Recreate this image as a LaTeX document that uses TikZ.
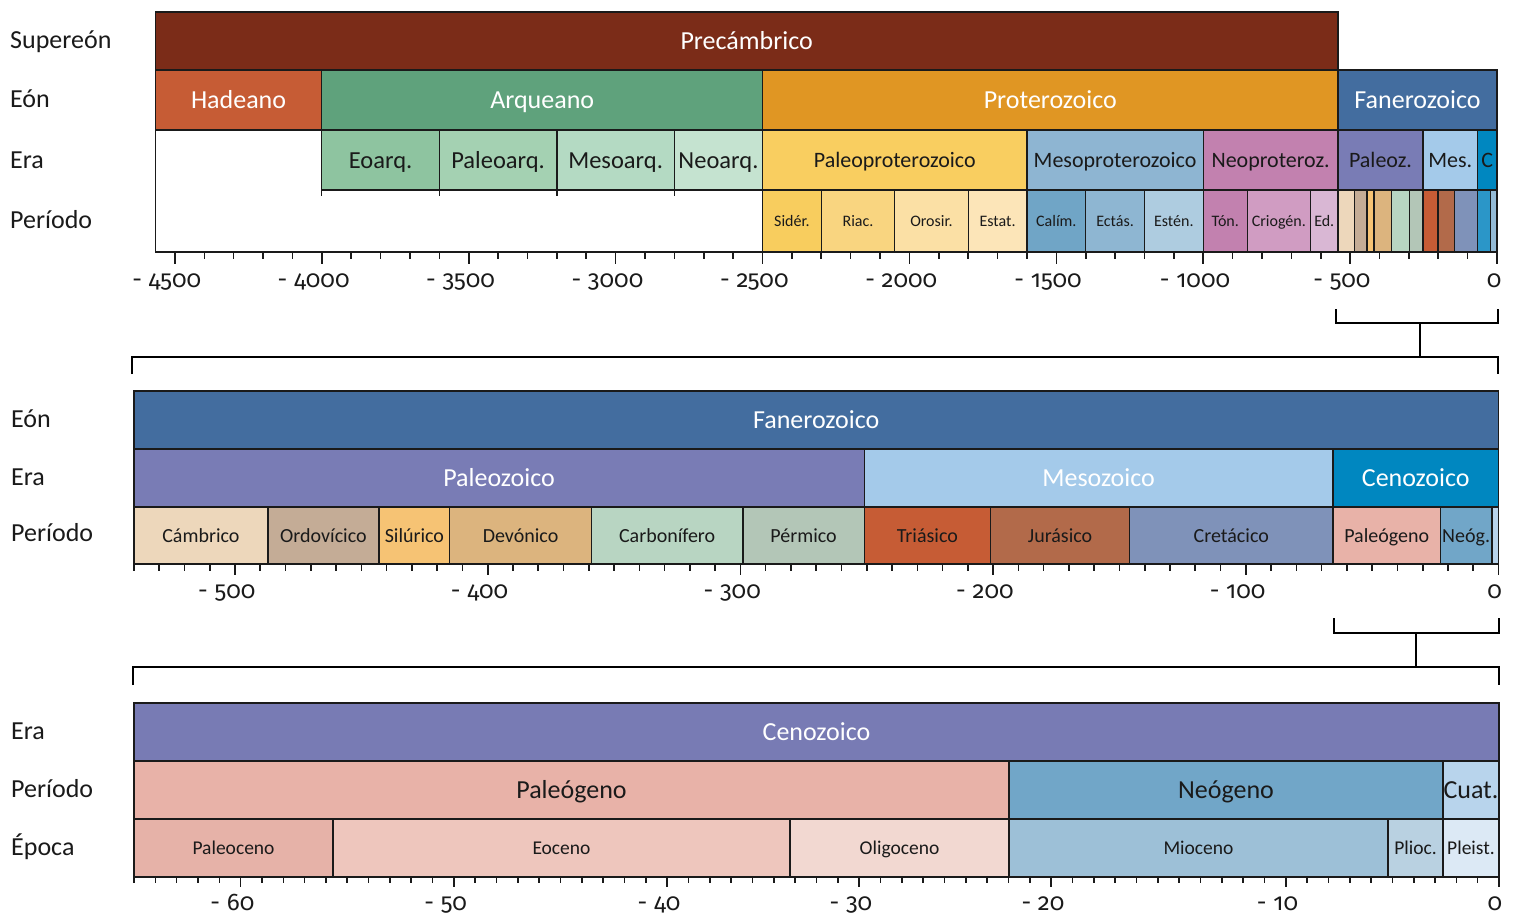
\documentclass[tikz,border=0pt]{standalone}
\usepackage{fontspec}
\setmainfont{Carlito}
\newfontfamily\agefont{Fira Sans}[Numbers=OldStyle]

% eons and supereon
\definecolor{ink}{HTML}{1A1A1A}
\definecolor{cPrec}{HTML}{7B2C18}
\definecolor{cHad}{HTML}{C65C35}
\definecolor{cArq}{HTML}{5FA27C}
\definecolor{cProt}{HTML}{E09623}
\definecolor{cFan}{HTML}{436D9F}
% eras
\definecolor{cEoarq}{HTML}{8EC4A0}
\definecolor{cPaleoarq}{HTML}{A4D1B2}
\definecolor{cMesoarq}{HTML}{B4DAC3}
\definecolor{cNeoarq}{HTML}{C5E3D0}
\definecolor{cPaleoprot}{HTML}{F9CE60}
\definecolor{cMesoprot}{HTML}{8EB5D2}
\definecolor{cNeoprot}{HTML}{C281AF}
\definecolor{cPaleoz}{HTML}{797CB5}
\definecolor{cMesoz}{HTML}{A4CAEA}
\definecolor{cCenoz}{HTML}{0087C0}
\definecolor{cCenozB}{HTML}{787BB4}
% periods
\definecolor{cSider}{HTML}{F8CD5E}
\definecolor{cRiac}{HTML}{F9D580}
\definecolor{cOrosir}{HTML}{FBE0A5}
\definecolor{cEstat}{HTML}{FCE5B8}
\definecolor{cCalim}{HTML}{70A5C6}
\definecolor{cEctas}{HTML}{8EB6D2}
\definecolor{cEsten}{HTML}{AECCE0}
\definecolor{cTon}{HTML}{C281AF}
\definecolor{cCriog}{HTML}{D09CC2}
\definecolor{cEdi}{HTML}{D9B7D4}
\definecolor{cCamb}{HTML}{EDD7BB}
\definecolor{cOrdo}{HTML}{C4AC96}
\definecolor{cSilu}{HTML}{F6C374}
\definecolor{cDevo}{HTML}{DCB47E}
\definecolor{cCarb}{HTML}{B8D5C2}
\definecolor{cPerm}{HTML}{B3C6B7}
\definecolor{cTria}{HTML}{C65C35}
\definecolor{cJura}{HTML}{B26A4A}
\definecolor{cCret}{HTML}{7F92B9}
\definecolor{cPaleog}{HTML}{E8B2A8}
\definecolor{cNeog}{HTML}{71A6C8}
\definecolor{cQuat}{HTML}{B8D4EC}
\definecolor{cPaleogA}{HTML}{2B96C8}
\definecolor{cNeogA}{HTML}{94BBD6}
% epochs
\definecolor{cPaleoc}{HTML}{E6B2A8}
\definecolor{cEoc}{HTML}{EEC6BD}
\definecolor{cOligoc}{HTML}{F2D8D1}
\definecolor{cMioc}{HTML}{9DC0D7}
\definecolor{cPlioc}{HTML}{B9D1E1}
\definecolor{cPleist}{HTML}{DCE9F5}

\tikzset{
  cell/.style={draw=ink, line width=1.3pt},
  axisline/.style={draw=ink, line width=2pt},
  tickline/.style={draw=ink, line width=1.6pt},
  bracket/.style={draw=black, line width=2pt},
  txt/.style={inner sep=0pt, text height=0pt, text depth=0pt, text=ink},
  wtxt/.style={txt, text=white},
  s26/.style={font=\fontsize{26}{30}\selectfont, yshift=-8.5pt},
  s24/.style={font=\fontsize{24.5}{28}\selectfont, yshift=-8pt},
  s22/.style={font=\fontsize{22}{26}\selectfont, yshift=-7pt},
  s20/.style={font=\fontsize{20}{24}\selectfont, yshift=-6.5pt},
  s19/.style={font=\fontsize{19.5}{23}\selectfont, yshift=-6.3pt},
  s16/.style={font=\fontsize{16}{19}\selectfont, yshift=-5.2pt},
  rowlab/.style={anchor=base west, inner sep=0pt, text=ink, font=\fontsize{26}{30}\selectfont},
  ticklab/.style={anchor=base, inner sep=0pt, text=ink, font=\agefont\fontsize{24}{28}\selectfont},
}

% #1 name, #2 left, #3 right, #4 top, #5 bottom, #6 fill, #7 text style, #8 text
\newcommand\cellbox[8]{%
  \filldraw[cell,fill=#6] (#2,#4) rectangle (#3,#5);
  \node[txt,#7] (#1) at ({(#2+#3)/2},{(#4+#5)/2}) {#8};%
}
\newcommand\agominus{\llap{-\hspace{0.28em}}}

\begin{document}
\begin{tikzpicture}[x=1pt, y=-1pt]
\useasboundingbox (0,0) rectangle (1517,916);

% ---------------- row titles ----------------
\node[rowlab] (tSup) at (10,48)  {Supereón};
\node[rowlab] (tEon1) at (10,107) {Eón};
\node[rowlab] (tEra1) at (10,168) {Era};
\node[rowlab] (tPer1) at (10,228) {Período};
\node[rowlab] (tEon2) at (11,427) {Eón};
\node[rowlab] (tEra2) at (11,485) {Era};
\node[rowlab] (tPer2) at (11,541) {Período};
\node[rowlab] (tEra3) at (11,739) {Era};
\node[rowlab] (tPer3) at (11,797) {Período};
\node[rowlab] (tEpo3) at (11,855) {Época};

% ---------------- whole history (Ma) ----------------
\begin{scope}[x=0.2938pt, xshift=1497pt]
  \cellbox{aPrec}{-4567}{-541}{12}{70}{cPrec}{wtxt,s26}{Precámbrico}
  % eons
  \cellbox{aHad}{-4567}{-4000}{70}{130}{cHad}{wtxt,s26}{Hadeano}
  \cellbox{aArq}{-4000}{-2500}{70}{130}{cArq}{wtxt,s26}{Arqueano}
  \cellbox{aProt}{-2500}{-541}{70}{130}{cProt}{wtxt,s26}{Proterozoico}
  \cellbox{aFan}{-541}{0}{70}{130}{cFan}{wtxt,s26}{Fanerozoico}
  % eras
  \cellbox{aEoarq}{-4000}{-3600}{130}{190}{cEoarq}{s24}{Eoarq.}
  \cellbox{aPaleoarq}{-3600}{-3200}{130}{190}{cPaleoarq}{s24}{Paleoarq.}
  \cellbox{aMesoarq}{-3200}{-2800}{130}{190}{cMesoarq}{s24}{Mesoarq.}
  \cellbox{aNeoarq}{-2800}{-2500}{130}{190}{cNeoarq}{s24}{Neoarq.}
  \cellbox{aPaleoprot}{-2500}{-1600}{130}{190}{cPaleoprot}{s22}{Paleoproterozoico}
  \cellbox{aMesoprot}{-1600}{-1000}{130}{190}{cMesoprot}{s22}{Mesoproterozoico}
  \cellbox{aNeoprot}{-1000}{-541}{130}{190}{cNeoprot}{s22}{Neoproteroz.}
  \cellbox{aPaleoz}{-541}{-252}{130}{190}{cPaleoz}{s22}{Paleoz.}
  \cellbox{aMesoz}{-252}{-66}{130}{190}{cMesoz}{s22}{Mes.}
  \cellbox{aCenoz}{-66}{0}{130}{190}{cCenoz}{s22}{C}
  % periods
  \cellbox{aSider}{-2500}{-2300}{190}{252}{cSider}{s16}{Sidér.}
  \cellbox{aRiac}{-2300}{-2050}{190}{252}{cRiac}{s16}{Riac.}
  \cellbox{aOrosir}{-2050}{-1800}{190}{252}{cOrosir}{s16}{Orosir.}
  \cellbox{aEstat}{-1800}{-1600}{190}{252}{cEstat}{s16}{Estat.}
  \cellbox{aCalim}{-1600}{-1400}{190}{252}{cCalim}{s16}{Calím.}
  \cellbox{aEctas}{-1400}{-1200}{190}{252}{cEctas}{s16}{Ectás.}
  \cellbox{aEsten}{-1200}{-1000}{190}{252}{cEsten}{s16}{Estén.}
  \cellbox{aTon}{-1000}{-850}{190}{252}{cTon}{s16}{Tón.}
  \cellbox{aCriog}{-850}{-635}{190}{252}{cCriog}{s16}{Criogén.}
  \cellbox{aEdi}{-635}{-541}{190}{252}{cEdi}{s16}{Ed.}
  \cellbox{aCamb}{-541}{-485}{190}{252}{cCamb}{s16}{}
  \cellbox{aOrdo}{-485}{-443}{190}{252}{cOrdo}{s16}{}
  \cellbox{aSilu}{-443}{-419}{190}{252}{cSilu}{s16}{}
  \cellbox{aDevo}{-419}{-359}{190}{252}{cDevo}{s16}{}
  \cellbox{aCarb}{-359}{-299}{190}{252}{cCarb}{s16}{}
  \cellbox{aPerm}{-299}{-252}{190}{252}{cPerm}{s16}{}
  \cellbox{aTria}{-252}{-201}{190}{252}{cTria}{s16}{}
  \cellbox{aJura}{-201}{-145}{190}{252}{cJura}{s16}{}
  \cellbox{aCret}{-145}{-66}{190}{252}{cCret}{s16}{}
  \cellbox{aPaleog}{-66}{-23}{190}{252}{cPaleogA}{s16}{}
  \cellbox{aNeog}{-23}{0}{190}{252}{cNeogA}{s16}{}
  % frame of the empty part and small drops below the Archean eras
  \draw[cell] (-4567,130) -- (-4567,252);
  \foreach \t in {-4000,-3600,-3200,-2800}
    \draw[cell] (\t,190) -- (\t,196);
  % time axis
  \foreach \t in {-4500,-4400,...,0}
    \draw[tickline] (\t,252) -- (\t,258.5);
  \foreach \t in {-4500,-4000,...,0}
    \draw[tickline] (\t,252) -- (\t,264);
  \draw[axisline] (-4567,252) -- (0,252);
  \foreach \t/\s in {-4500/4500,-4000/4000,-3500/3500,-3000/3000,-2500/2500,
                     -2000/2000,-1500/1500,-1000/1000,-500/500}
    \node[ticklab] (aL\s) at (\t,287) {\agominus\s};
  \node[ticklab] (aL0) at (-10,287) {0};
\end{scope}

% ---------------- zoom brackets 1 ----------------
\coordinate (b1a) at (1336,309);
\coordinate (b1b) at (1498,309);
\coordinate (b1m) at (1420,323);
\coordinate (b1s) at (1420,357);
\coordinate (b1c) at (132,374);
\coordinate (b1d) at (1498,374);
\draw[bracket] (b1a) |- (b1m) -| (b1b);
\draw[bracket] (b1m) -- (b1s);
\draw[bracket] (b1c) |- (b1s) -| (b1d);

% ---------------- Phanerozoic (Ma) ----------------
\begin{scope}[x=2.527pt, xshift=1498.5pt]
  \cellbox{bFan}{-540}{0}{391}{449}{cFan}{wtxt,s26}{Fanerozoico}
  \cellbox{bPaleoz}{-540}{-251}{449}{507}{cPaleoz}{wtxt,s26}{Paleozoico}
  \cellbox{bMesoz}{-251}{-65.5}{449}{507}{cMesoz}{wtxt,s26}{Mesozoico}
  \cellbox{bCenoz}{-65.5}{0}{449}{507}{cCenoz}{wtxt,s26}{Cenozoico}
  \cellbox{bCamb}{-540}{-487}{507}{564}{cCamb}{s20}{Cámbrico}
  \cellbox{bOrdo}{-487}{-443}{507}{564}{cOrdo}{s20}{Ordovícico}
  \cellbox{bSilu}{-443}{-415}{507}{564}{cSilu}{s20}{Silúrico}
  \cellbox{bDevo}{-415}{-359}{507}{564}{cDevo}{s20}{Devónico}
  \cellbox{bCarb}{-359}{-299}{507}{564}{cCarb}{s20}{Carbonífero}
  \cellbox{bPerm}{-299}{-251}{507}{564}{cPerm}{s20}{Pérmico}
  \cellbox{bTria}{-251}{-201}{507}{564}{cTria}{s20}{Triásico}
  \cellbox{bJura}{-201}{-146}{507}{564}{cJura}{s20}{Jurásico}
  \cellbox{bCret}{-146}{-65.5}{507}{564}{cCret}{s20}{Cretácico}
  \cellbox{bPaleog}{-65.5}{-23}{507}{564}{cPaleog}{s20}{Paleógeno}
  \cellbox{bNeog}{-23}{-2.6}{507}{564}{cNeog}{s20}{Neóg.}
  \cellbox{bQuat}{-2.6}{0}{507}{564}{cQuat}{s20}{}
  % time axis
  \foreach \t in {-540,-530,...,0}
    \draw[tickline] (\t,564) -- (\t,570.5);
  \foreach \t in {-500,-400,...,0}
    \draw[tickline] (\t,564) -- (\t,575);
  \draw[axisline] (-540,564) -- (0,564);
  \foreach \t/\s in {-500/500,-400/400,-300/300,-200/200,-100/100}
    \node[ticklab] (bL\s) at (\t,598.5) {\agominus\s};
  \node[ticklab] (bL0) at (-1.5,598.5) {0};
\end{scope}

% ---------------- zoom brackets 2 ----------------
\coordinate (b2a) at (1334,618);
\coordinate (b2b) at (1499,618);
\coordinate (b2m) at (1416,633);
\coordinate (b2s) at (1416,667);
\coordinate (b2c) at (133,685);
\coordinate (b2d) at (1499,685);
\draw[bracket] (b2a) |- (b2m) -| (b2b);
\draw[bracket] (b2m) -- (b2s);
\draw[bracket] (b2c) |- (b2s) -| (b2d);

% ---------------- Cenozoic ----------------
\cellbox{cCen}{134}{1499}{703}{761}{cCenozB}{wtxt,s26}{Cenozoico}
\cellbox{cPgn}{134}{1009}{761}{819}{cPaleog}{s26}{Paleógeno}
\cellbox{cNgn}{1009}{1443}{761}{819}{cNeog}{s26}{Neógeno}
\cellbox{cQua}{1443}{1499}{761}{819}{cQuat}{s26}{Cuat.}
\cellbox{cPal}{134}{333}{819}{877}{cPaleoc}{s19}{Paleoceno}
\cellbox{cEoc}{333}{790}{819}{877}{cEoc}{s19}{Eoceno}
\cellbox{cOli}{790}{1009}{819}{877}{cOligoc}{s19}{Oligoceno}
\cellbox{cMio}{1009}{1388}{819}{877}{cMioc}{s19}{Mioceno}
\cellbox{cPli}{1388}{1443}{819}{877}{cPlioc}{s19}{Plioc.}
\cellbox{cPle}{1443}{1499}{819}{877}{cPleist}{s19}{Pleist.}
% time axis
\foreach \i in {0,...,64}
  \draw[tickline] ({134+\i*21.328},877) -- ({134+\i*21.328},883);
\foreach \i in {5,15,25,34,43,54,64}
  \draw[tickline] ({134+\i*21.328},877) -- ({134+\i*21.328},887);
\draw[axisline] (134,877) -- (1499,877);
\foreach \i/\s in {5/60,15/50,25/40,34/30,43/20,54/10}
  \node[ticklab] (cL\s) at ({134+\i*21.328},910) {\agominus\s};
\node[ticklab] (cL0) at (1495,910) {0};

\end{tikzpicture}
\end{document}
